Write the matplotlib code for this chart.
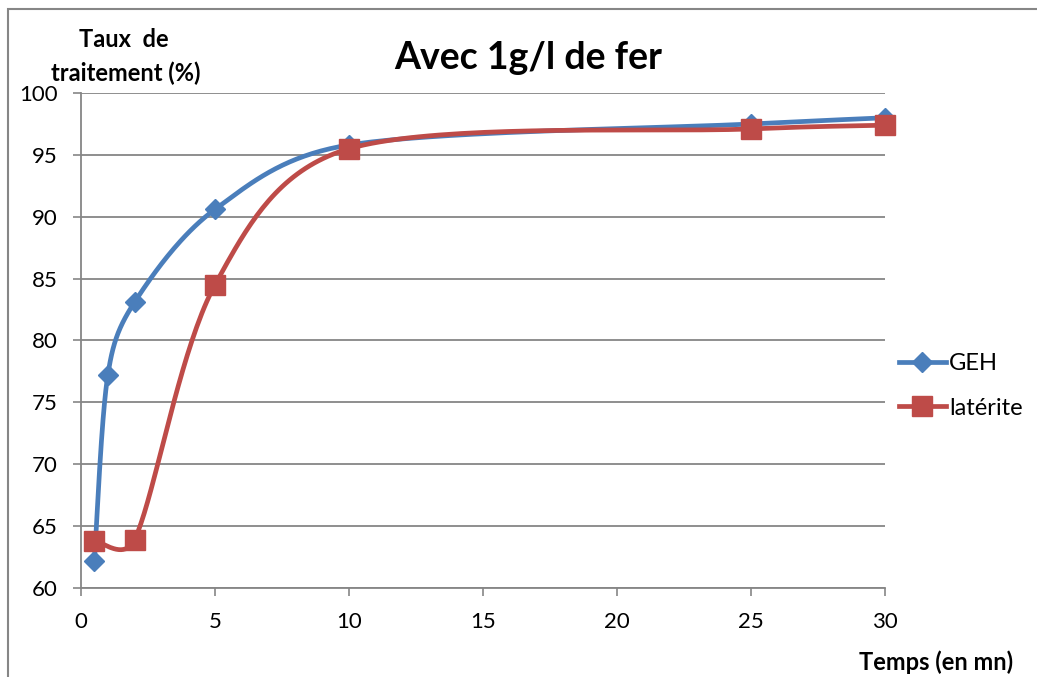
import numpy as np
import matplotlib.pyplot as plt
from matplotlib.lines import Line2D
from matplotlib.patches import Rectangle

# temps (mn) et taux de traitement (%)
temps_geh = [0.5, 1, 2, 5, 10, 25, 30]
taux_geh = [62.2, 77.2, 83.1, 90.6, 95.8, 97.5, 98.0]
temps_lat = [0.5, 2, 5, 10, 25, 30]
taux_lat = [63.8, 63.9, 84.5, 95.5, 97.1, 97.4]

x_ticks = [0, 5, 10, 15, 20, 25, 30]
y_ticks = [60, 65, 70, 75, 80, 85, 90, 95, 100]

bleu = "#4A7EBB"
rouge = "#BE4B48"
gris = "#868686"

plt.rcParams["font.family"] = ["Lato", "DejaVu Sans"]

fig = plt.figure(figsize=(10.37, 6.77), dpi=100)
ax = fig.add_axes([0.0781, 0.1315, 0.7753, 0.7311])
ax.set_xlim(0, 30)
ax.set_ylim(60, 100)


def lissage(xs, ys, sx, sy, n=40):
    # courbe lissée (Bezier type Catmull-Rom), calculée en espace écran,
    # tangentes réduites quand les segments voisins sont très inégaux
    p = np.column_stack([np.asarray(xs) * sx, np.asarray(ys) * sy])
    p = np.vstack([p[0], p, p[-1]])
    L = np.linalg.norm(np.diff(p, axis=0), axis=1)
    t = np.linspace(0, 1, n)[:, None]
    out = []
    for i in range(1, len(p) - 2):
        p0, p1, p2, p3 = p[i - 1], p[i], p[i + 1], p[i + 2]
        l0, l1, l2 = L[i - 1], L[i], L[i + 1]
        f1 = 1.0 if l0 == 0 else min(1.0, np.sqrt(2 * l1 / (l0 + l1)))
        f2 = 1.0 if l2 == 0 else min(1.0, np.sqrt(2 * l1 / (l1 + l2)))
        c1 = p1 + f1 * (p2 - p0) / 6
        c2 = p2 - f2 * (p3 - p1) / 6
        seg = ((1 - t) ** 3) * p1 + 3 * ((1 - t) ** 2) * t * c1 + 3 * (1 - t) * t ** 2 * c2 + t ** 3 * p2
        out.append(seg)
    out = np.vstack(out)
    return out[:, 0] / sx, out[:, 1] / sy


sx = 804 / 30
sy = 495 / 40

for xs, ys, c, m, ms in [(temps_geh, taux_geh, bleu, "D", 10),
                         (temps_lat, taux_lat, rouge, "s", 14)]:
    cx, cy = lissage(xs, ys, sx, sy)
    ax.plot(cx, cy, color=c, lw=3.4, solid_capstyle="round", zorder=3, clip_on=False)
    ax.plot(xs, ys, ls="none", marker=m, ms=ms, color=c, mec=c, zorder=4, clip_on=False)

ax.set_xticks(x_ticks)
ax.set_yticks(y_ticks)
ax.tick_params(axis="both", labelsize=16, color=gris, length=6, width=1.2, pad=11)
ax.grid(axis="y", color=gris, lw=1.3)
ax.set_axisbelow(True)
for s in ["right", "top"]:
    ax.spines[s].set_visible(False)
for s in ["left", "bottom"]:
    ax.spines[s].set_color(gris)
    ax.spines[s].set_linewidth(1.3)

fig.text(0.509, 0.914, "Avec 1g/l de fer", ha="center", va="center",
         fontsize=27, fontweight="bold")
fig.text(0.119, 0.942, "Taux  de", ha="center", va="center", fontsize=17, fontweight="bold")
fig.text(0.121, 0.892, "traitement (%)", ha="center", va="center", fontsize=17, fontweight="bold")
fig.text(0.977, 0.022, "Temps (en mn)", ha="right", va="center", fontsize=17, fontweight="bold")

poignees = [Line2D([], [], color=bleu, lw=3.4, marker="D", ms=10),
            Line2D([], [], color=rouge, lw=3.4, marker="s", ms=14)]
fig.legend(poignees, ["GEH", "latérite"], loc="center left",
           bbox_to_anchor=(0.846, 0.43), frameon=False, fontsize=17,
           handlelength=2.0, handletextpad=0.15, labelspacing=1.0)

# cadre du graphique
fig.patches.append(Rectangle((8 / 1037, -0.05), 1.2, 1 - 9 / 677 + 0.05,
                             transform=fig.transFigure, fill=False,
                             ec=gris, lw=1.5))

fig.savefig("out.png", dpi=100)
